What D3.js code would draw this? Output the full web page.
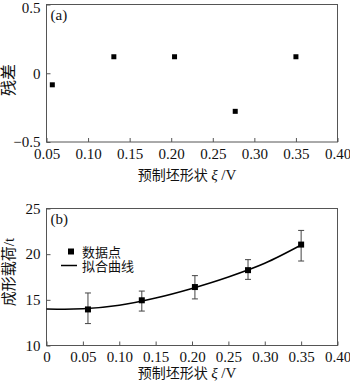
<!DOCTYPE html>
<html>
<head>
<meta charset="utf-8">
<script src="https://cdn.jsdelivr.net/npm/d3@7/dist/d3.min.js"></script>
<style>
  html, body { margin: 0; padding: 0; background: #fff; }
  svg { display: block; }
  text { font-family: "Liberation Serif", "Times New Roman", "Noto Sans CJK SC", serif; fill: #111; }
  .cjk { font-family: "Liberation Serif", "Noto Sans CJK SC", sans-serif; }
</style>
</head>
<body>
<svg id="chart" width="350" height="384"></svg>
<script>
// Shape parameter of the preform for each test
const xi = [0.057, 0.131, 0.204, 0.277, 0.350];
// Panel (a): residuals of the fit
const residuals = [-0.084, 0.12, 0.12, -0.277, 0.12];
// Panel (b): measured forming load (t) with error bar limits
const load = [13.95, 14.95, 16.4, 18.25, 21.05];
const loadLow = [12.4, 13.77, 15.1, 17.24, 19.25];
const loadHigh = [15.75, 15.96, 17.65, 19.4, 22.6];
// Fitted curve, sampled along ξ
const fitX = [0, 0.025, 0.05, 0.1, 0.15, 0.2, 0.25, 0.3, 0.35];
const fitY = [14.0, 13.98, 14.02, 14.4, 15.2, 16.25, 17.5, 19.0, 21.0];

const xTicksA = [0.05, 0.10, 0.15, 0.20, 0.25, 0.30, 0.35, 0.40];
const yTicksA = [-0.5, 0, 0.5];
const xTicksB = [0, 0.05, 0.10, 0.15, 0.20, 0.25, 0.30, 0.35, 0.40];
const yTicksB = [10, 15, 20, 25];

const svg = d3.select("#chart");
const frameColor = "#555";
const tickFont = 15;

function panel(opts) {
  const g = svg.append("g");
  const x = d3.scaleLinear().domain(opts.xDomain).range([opts.left, opts.right]);
  const y = d3.scaleLinear().domain(opts.yDomain).range([opts.bottom, opts.top]);

  // frame
  g.append("rect")
    .attr("x", opts.left).attr("y", opts.top)
    .attr("width", opts.right - opts.left).attr("height", opts.bottom - opts.top)
    .attr("fill", "none").attr("stroke", frameColor).attr("stroke-width", 1);

  // axes with inward ticks
  const xAxis = d3.axisBottom(x).tickValues(opts.xTicks).tickSize(-4).tickPadding(6)
    .tickFormat(d => d === 0 ? "0" : d3.format(".2f")(d));
  const gx = g.append("g").attr("transform", `translate(0,${opts.bottom})`).call(xAxis);
  const yAxis = d3.axisLeft(y).tickValues(opts.yTicks).tickSize(-4).tickPadding(6)
    .tickFormat(opts.yFormat);
  const gy = g.append("g").attr("transform", `translate(${opts.left},0)`).call(yAxis);
  [gx, gy].forEach(a => {
    a.select(".domain").remove();
    a.selectAll(".tick line").attr("stroke", frameColor);
    a.selectAll(".tick text").attr("font-size", tickFont)
      .style("font-family", '"Liberation Serif", serif').attr("fill", "#111");
  });
  gx.selectAll(".tick text").attr("dy", "0.72em");
  // keep the topmost y label inside the canvas
  gy.selectAll(".tick text").filter(d => d === opts.yDomain[1])
    .attr("dy", opts.topLabelDy || "0.32em");

  // panel letter
  g.append("text").attr("x", opts.left + 4).attr("y", opts.top + 15)
    .attr("font-size", 15).text(opts.label);

  // axis titles
  const xt = g.append("text").attr("class", "cjk")
    .attr("x", opts.xTitleX).attr("y", opts.xTitleY)
    .attr("text-anchor", "middle").attr("font-size", 14);
  xt.append("tspan").text("预制坯形状 ");
  xt.append("tspan").attr("font-style", "italic")
    .style("font-family", '"Liberation Serif", serif').attr("font-size", 15).text("ξ");
  xt.append("tspan").style("font-family", '"Liberation Serif", serif')
    .attr("font-size", 15).text(" /V");

  g.append("text").attr("class", "cjk")
    .attr("transform", `translate(${opts.yTitleX},${opts.yTitleY}) rotate(-90)`)
    .attr("text-anchor", "middle").attr("font-size", opts.yTitleSize).text(opts.yTitle);

  return { g, x, y };
}

// ---- Panel (a): residuals ----
const A = panel({
  left: 46.5, right: 337.5, top: 4.5, bottom: 142,
  xDomain: [0.05, 0.40], yDomain: [-0.5, 0.5],
  xTicks: xTicksA, yTicks: yTicksA,
  yFormat: d => d === 0 ? "0" : d3.format(".1f")(d).replace("-", "\u2212"),
  topLabelDy: "0.5em",
  label: "(a)", xTitleX: 187, xTitleY: 180,
  yTitle: "残差", yTitleSize: 16, yTitleX: 14, yTitleY: 80
});
A.g.selectAll("rect.pt").data(xi).join("rect").attr("class", "pt")
  .attr("x", (d) => A.x(d) - 2.5)
  .attr("y", (d, i) => A.y(residuals[i]) - 2.5)
  .attr("width", 5).attr("height", 5).attr("fill", "#000");

// ---- Panel (b): forming load ----
const B = panel({
  left: 46.5, right: 337.5, top: 208.5, bottom: 345.5,
  xDomain: [0, 0.40], yDomain: [10, 25],
  xTicks: xTicksB, yTicks: yTicksB,
  yFormat: d3.format("d"),
  label: "(b)", xTitleX: 187, xTitleY: 378,
  yTitle: "成形载荷/t", yTitleSize: 15, yTitleX: 14, yTitleY: 272
});

// fitted curve
B.g.append("path")
  .datum(fitX.map((d, i) => [d, fitY[i]]))
  .attr("fill", "none").attr("stroke", "#000").attr("stroke-width", 1.5)
  .attr("d", d3.line().x(d => B.x(d[0])).y(d => B.y(d[1])).curve(d3.curveMonotoneX));

// error bars
const eb = B.g.selectAll("g.eb").data(xi).join("g").attr("class", "eb")
  .attr("stroke", "#444").attr("stroke-width", 1);
eb.append("line")
  .attr("x1", d => B.x(d)).attr("x2", d => B.x(d))
  .attr("y1", (d, i) => B.y(loadLow[i])).attr("y2", (d, i) => B.y(loadHigh[i]));
eb.append("line")
  .attr("x1", d => B.x(d) - 3).attr("x2", d => B.x(d) + 3)
  .attr("y1", (d, i) => B.y(loadLow[i])).attr("y2", (d, i) => B.y(loadLow[i]));
eb.append("line")
  .attr("x1", d => B.x(d) - 3).attr("x2", d => B.x(d) + 3)
  .attr("y1", (d, i) => B.y(loadHigh[i])).attr("y2", (d, i) => B.y(loadHigh[i]));

// data points
B.g.selectAll("rect.pt").data(xi).join("rect").attr("class", "pt")
  .attr("x", d => B.x(d) - 3)
  .attr("y", (d, i) => B.y(load[i]) - 3)
  .attr("width", 6).attr("height", 6).attr("fill", "#000");

// legend
const lg = B.g.append("g");
lg.append("rect").attr("x", 68).attr("y", 248.5).attr("width", 6).attr("height", 6).attr("fill", "#000");
lg.append("text").attr("class", "cjk").attr("x", 82).attr("y", 256.5).attr("font-size", 13).text("数据点");
lg.append("line").attr("x1", 61).attr("x2", 77).attr("y1", 265.5).attr("y2", 265.5)
  .attr("stroke", "#000").attr("stroke-width", 1.5);
lg.append("text").attr("class", "cjk").attr("x", 82).attr("y", 270.5).attr("font-size", 13).text("拟合曲线");
</script>
</body>
</html>
